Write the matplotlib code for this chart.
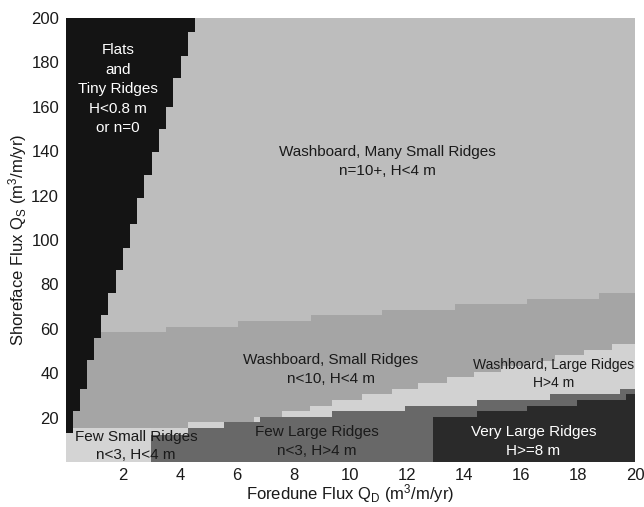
import numpy as np
import matplotlib
matplotlib.use('Agg')
import matplotlib.pyplot as plt

plt.rcParams['font.family'] = ['Liberation Sans', 'DejaVu Sans']
plt.rcParams['mathtext.fontset'] = 'custom'
plt.rcParams['mathtext.rm'] = 'Liberation Sans'
plt.rcParams['mathtext.it'] = 'Liberation Sans:italic'
plt.rcParams['mathtext.bf'] = 'Liberation Sans:bold'

# ---- data: regime boundaries (step functions) ----
# Flats / tiny ridges: right edge in Q_D for each Q_S band (band lower edges, last = top)
flats_qs_edges = [13, 23, 33, 46, 56, 66, 76, 86.5, 96.5, 107, 119, 129.5,
                  139.5, 150, 160, 173, 183, 193.5, 200]
flats_qd_right = [0.24, 0.49, 0.75, 0.99, 1.23, 1.49, 1.76, 2.01, 2.25, 2.51,
                  2.75, 3.01, 3.27, 3.50, 3.77, 4.03, 4.30, 4.53]

# Washboard, many small ridges: lower boundary in Q_S
many_qd_edges = [0, 3.5, 6.05, 8.6, 11.12, 13.67, 16.19, 18.74, 20]
many_qs_lower = [58.5, 61, 63.5, 66, 68.5, 71, 73.5, 76]

# Washboard, small ridges: lower boundary in Q_S
small_qd_edges = [0, 4.3, 6.6, 7.58, 8.58, 9.34, 10.39, 11.45, 12.38, 13.38,
                  14.35, 15.3, 16.25, 17.2, 18.2, 19.2, 20]
small_qs_lower = [15.5, 17.9, 20.4, 23, 25.4, 28, 30.5, 33, 35.5, 38.1,
                  40.6, 43.1, 45.6, 48.1, 50.6, 53.1]

# Few small ridges: bottom-left block
fewsmall_qd_edges = [0, 3.0]
fewsmall_qs_upper = [15.5]

# Few large ridges: upper boundary in Q_S
fewlarge_qd_edges = [3.0, 4.3, 5.55, 6.82, 9.34, 11.9, 14.43, 17.0, 19.47, 20]
fewlarge_qs_upper = [12.2, 15.5, 17.9, 20.4, 23, 25.4, 28, 30.5, 33]

# Very large ridges: upper boundary in Q_S
vlarge_qd_edges = [12.91, 14.43, 16.19, 17.95, 19.7, 20]
vlarge_qs_upper = [20.4, 23, 25.4, 28, 30.5]

x_ticks = [2, 4, 6, 8, 10, 12, 14, 16, 18, 20]
y_ticks = [20, 40, 60, 80, 100, 120, 140, 160, 180, 200]

colors = {
    'flats': '#141414',
    'many': '#bdbdbd',
    'small': '#a5a5a5',
    'wlarge': '#d2d2d2',
    'fewsmall': '#d4d4d4',
    'fewlarge': '#686868',
    'vlarge': '#2a2a2a',
}

labels = [
    ('Flats\nand\nTiny Ridges\nH<0.8 m\nor n=0', 1.83, 168, 'white', 11, 1.5),
    ('Washboard, Many Small Ridges\nn=10+, H<4 m', 11.3, 135.4, '#1a1a1a', 11, 1.45),
    ('Washboard, Small Ridges\nn<10, H<4 m', 9.3, 41.8, '#1a1a1a', 11, 1.45),
    ('Washboard, Large Ridges\nH>4 m', 17.15, 39.7, '#1a1a1a', 10, 1.4),
    ('Few Small Ridges\nn<3, H<4 m', 2.46, 7.2, '#1a1a1a', 11, 1.45),
    ('Few Large Ridges\nn<3, H>4 m', 8.81, 9.3, '#1a1a1a', 11, 1.45),
    ('Very Large Ridges\nH>=8 m', 16.43, 9.1, 'white', 11, 1.45),
]

# ---- plot ----
fig = plt.figure(figsize=(6.44, 5.07), dpi=100)
ax = fig.add_axes([66 / 644, 1 - 462 / 507, (635 - 66) / 644, (462 - 18) / 507])
ax.set_xlim(0, 20)
ax.set_ylim(0, 200)


def step_fill(edges, levels, color):
    x = np.asarray(edges, float)
    y = np.append(np.asarray(levels, float), levels[-1])
    ax.fill_between(x, 0, y, step='post', color=color, linewidth=0, antialiased=False)


ax.fill_between([0, 20], 0, 200, color=colors['many'], linewidth=0)
step_fill(many_qd_edges, many_qs_lower, colors['small'])
step_fill(small_qd_edges, small_qs_lower, colors['wlarge'])
step_fill(fewsmall_qd_edges, fewsmall_qs_upper, colors['fewsmall'])
step_fill(fewlarge_qd_edges, fewlarge_qs_upper, colors['fewlarge'])
step_fill(vlarge_qd_edges, vlarge_qs_upper, colors['vlarge'])

fy = np.asarray(flats_qs_edges, float)
fx = np.append(np.asarray(flats_qd_right, float), flats_qd_right[-1])
ax.fill_betweenx(fy, 0, fx, step='post', color=colors['flats'], linewidth=0, antialiased=False)

for txt, x, y, c, s, ls in labels:
    ax.text(x, y, txt, ha='center', va='center', color=c, fontsize=s, linespacing=ls)

for sp in ax.spines.values():
    sp.set_visible(False)
ax.set_xticks(x_ticks)
ax.set_yticks(y_ticks)
ax.tick_params(length=0, labelsize=12, pad=5, labelcolor='#1a1a1a')
ax.tick_params(axis='x', pad=4)
ax.set_xlabel(r'Foredune Flux Q$_\mathregular{D}$ (m$^\mathregular{3}$/m/yr)', fontsize=12,
              labelpad=0, color='#1a1a1a')
ax.set_ylabel(r'Shoreface Flux Q$_\mathregular{S}$ (m$^\mathregular{3}$/m/yr)', fontsize=12,
              labelpad=1.5, color='#1a1a1a')

fig.savefig('out.png', dpi=100)
